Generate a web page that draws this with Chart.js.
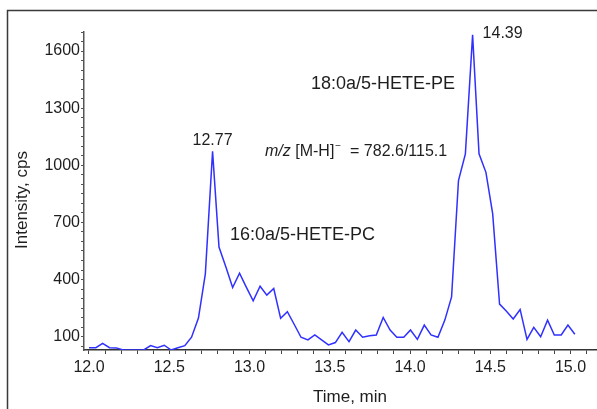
<!DOCTYPE html>
<html>
<head>
<meta charset="utf-8">
<script src="https://cdn.jsdelivr.net/npm/chart.js@4/dist/chart.umd.min.js"></script>
<style>
  html, body { margin: 0; padding: 0; background: #ffffff; }
  #wrap { position: relative; width: 597px; height: 409px; }
  canvas { display: block; }
</style>
</head>
<body>
<div id="wrap"><canvas id="xic" width="597" height="409"></canvas></div>
<script>
// Extracted ion chromatogram, m/z 782.6 -> 115.1
const retentionTimes = [
  12.000, 12.043, 12.085, 12.128, 12.171, 12.213, 12.256, 12.298, 12.341, 12.384,
  12.426, 12.469, 12.512, 12.554, 12.597, 12.639, 12.682, 12.725, 12.770, 12.810,
  12.853, 12.895, 12.938, 12.980, 13.023, 13.066, 13.108, 13.151, 13.194, 13.236,
  13.279, 13.321, 13.364, 13.407, 13.449, 13.492, 13.535, 13.577, 13.620, 13.662,
  13.705, 13.748, 13.790, 13.833, 13.876, 13.918, 13.961, 14.003, 14.046, 14.089,
  14.131, 14.174, 14.217, 14.259, 14.302, 14.345, 14.390, 14.430, 14.473, 14.515,
  14.558, 14.601, 14.643, 14.686, 14.729, 14.771, 14.814, 14.857, 14.899, 14.942,
  14.984, 15.027
];
const intensity = [
  42, 42, 65, 42, 41, 30, 30, 30, 30, 53,
  42, 55, 30, 42, 53, 97, 198, 430, 1073, 571,
  466, 358, 433, 360, 288, 365, 318, 353, 196, 231,
  164, 97, 83, 109, 83, 57, 69, 123, 74, 135,
  97, 105, 109, 201, 135, 97, 97, 135, 86, 161,
  109, 97, 187, 309, 920, 1060, 1685, 1060, 963, 746,
  271, 234, 193, 243, 86, 149, 100, 187, 109, 109,
  161, 113
];
const xTickLabels = ['12.0', '12.5', '13.0', '13.5', '14.0', '14.5', '15.0'];
const yTickLabels = [100, 400, 700, 1000, 1300, 1600];
const peakLabels = [
  { time: 12.77, value: 1073, text: '12.77', align: 'center', dx: 0, dy: -11 },
  { time: 14.39, value: 1685, text: '14.39', align: 'left', dx: 10, dy: -1 }
];
const compoundLabels = [
  { text: '18:0a/5-HETE-PE', x: 311, y: 84 },
  { text: '16:0a/5-HETE-PC', x: 230, y: 235 }
];
const transition = { prefix: 'm/z', ion: ' [M-H]', charge: '\u2212', tail: '  = 782.6/115.1', x: 265, y: 152 };

const FONT = "'Liberation Sans', Arial, sans-serif";
const TEXT = '#1e1e1e';

const annotate = {
  id: 'annotate',
  afterDraw(chart) {
    const { ctx, scales } = chart;
    ctx.save();

    // outer frame (left and top edges)
    ctx.strokeStyle = '#3a3a3a';
    ctx.lineWidth = 1.5;
    ctx.beginPath();
    ctx.moveTo(7.5, 409);
    ctx.lineTo(7.5, 10.5);
    ctx.lineTo(597, 10.5);
    ctx.stroke();

    ctx.fillStyle = TEXT;
    ctx.textBaseline = 'middle';

    // axis titles
    ctx.font = '17px ' + FONT;
    ctx.textAlign = 'center';
    ctx.fillText('Time, min', 350, 397);
    ctx.save();
    ctx.translate(22, 200);
    ctx.rotate(-Math.PI / 2);
    ctx.fillText('Intensity, cps', 0, 0);
    ctx.restore();

    // apex retention times
    ctx.font = '16px ' + FONT;
    peakLabels.forEach(p => {
      ctx.textAlign = p.align;
      ctx.fillText(p.text,
        scales.x.getPixelForValue(p.time) + p.dx,
        scales.y.getPixelForValue(p.value) + p.dy);
    });

    // compound names
    ctx.font = '18px ' + FONT;
    ctx.textAlign = 'left';
    compoundLabels.forEach(c => ctx.fillText(c.text, c.x, c.y));

    // MRM transition
    let x = transition.x;
    ctx.font = 'italic 16px ' + FONT;
    ctx.fillText(transition.prefix, x, transition.y);
    x += ctx.measureText(transition.prefix).width;
    ctx.font = '16px ' + FONT;
    ctx.fillText(transition.ion, x, transition.y);
    x += ctx.measureText(transition.ion).width;
    ctx.font = '10px ' + FONT;
    ctx.fillText(transition.charge, x + 1, transition.y - 6);
    x += ctx.measureText(transition.charge).width + 1;
    ctx.font = '16px ' + FONT;
    ctx.fillText(transition.tail, x, transition.y);

    ctx.restore();
  }
};

new Chart(document.getElementById('xic'), {
  type: 'line',
  data: {
    datasets: [{
      data: retentionTimes.map((t, i) => ({ x: t, y: intensity[i] })),
      borderColor: 'rgb(48, 48, 255)',
      borderWidth: 1.5,
      pointRadius: 0,
      tension: 0,
      fill: false
    }]
  },
  options: {
    responsive: false,
    animation: false,
    layout: { padding: { top: 32, left: 0, right: 0, bottom: 0 } },
    plugins: { legend: { display: false }, tooltip: { enabled: false } },
    scales: {
      x: {
        type: 'linear',
        min: 11.969,
        max: 15.165,
        afterFit(s) { s.height = 59; },
        afterBuildTicks(s) {
          const t = [];
          for (let k = 120; k <= 151; k++) t.push({ value: k / 10 });
          s.ticks = t;
        },
        ticks: {
          autoSkip: false,
          maxRotation: 0,
          padding: 4,
          color: TEXT,
          font: { family: FONT, size: 16 },
          callback(v) { const s = Number(v).toFixed(1); return xTickLabels.includes(s) ? s : ''; }
        },
        grid: { drawOnChartArea: false, tickLength: 4, tickColor: '#444', tickWidth: 1 },
        border: { display: true, color: '#333', width: 1.5 }
      },
      y: {
        type: 'linear',
        min: 30,
        max: 1700,
        afterFit(s) { s.width = 84; },
        afterBuildTicks(s) {
          const t = [];
          for (let v = 50; v <= 1700; v += 50) t.push({ value: v });
          s.ticks = t;
        },
        ticks: {
          autoSkip: false,
          padding: 1,
          color: TEXT,
          font: { family: FONT, size: 16 },
          callback(v) { return yTickLabels.includes(Math.round(v)) ? String(Math.round(v)) : ''; }
        },
        grid: { drawOnChartArea: false, tickLength: 3, tickColor: '#555', tickWidth: 1 },
        border: { display: true, color: '#555', width: 1.5 }
      }
    }
  },
  plugins: [annotate]
});
</script>
</body>
</html>
